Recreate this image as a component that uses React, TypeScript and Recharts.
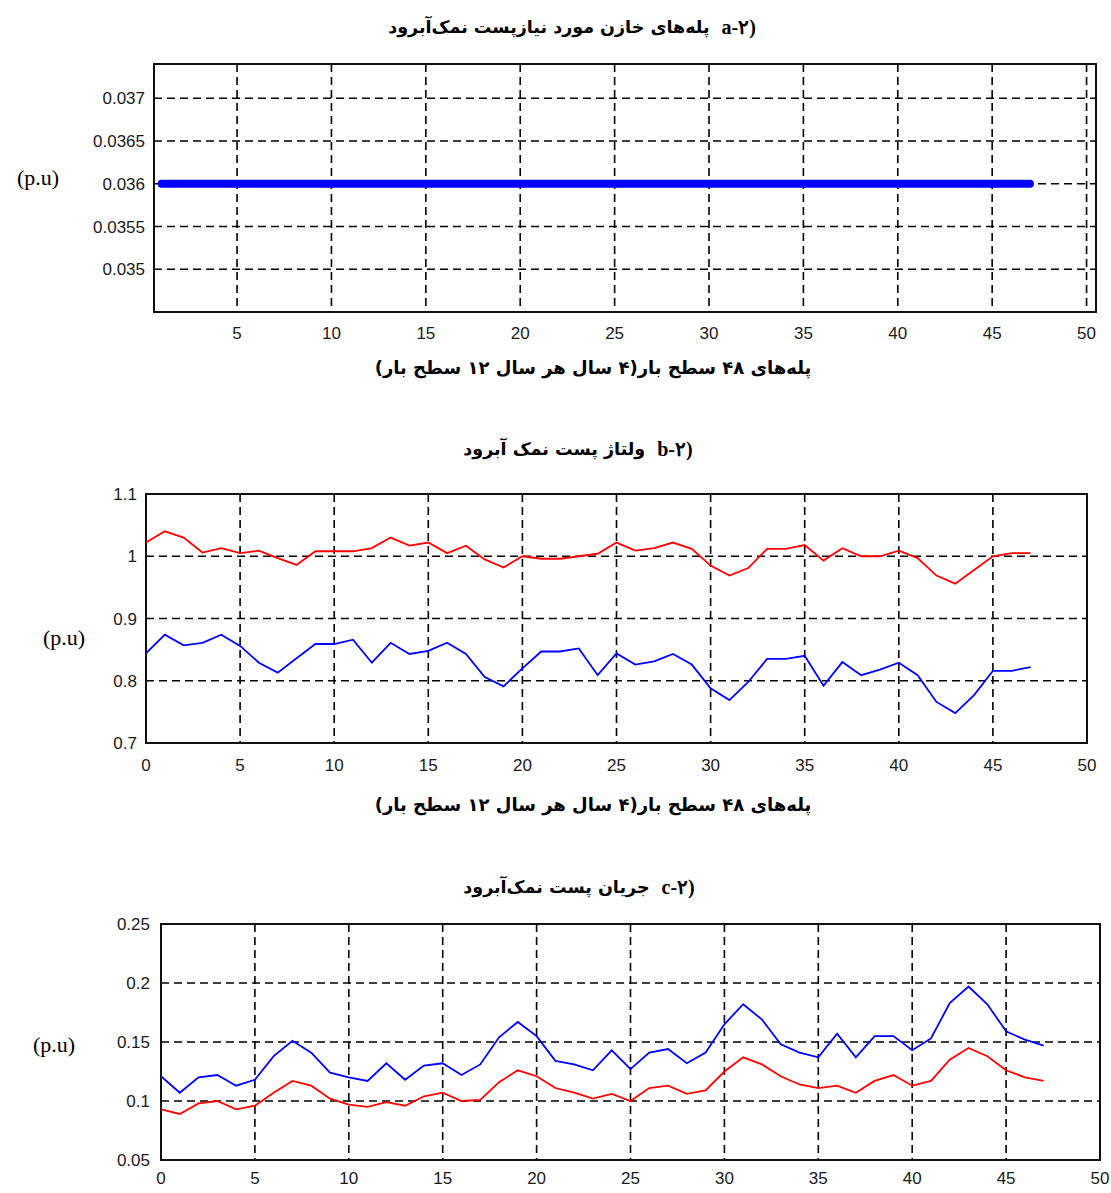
import { LineChart, Line, XAxis, YAxis, CartesianGrid, ReferenceArea } from "recharts"

// panel a: capacitor steps (constant)
const stepsA = [1, 2, 3, 4, 5, 6, 7, 8, 9, 10, 11, 12, 13, 14, 15, 16, 17, 18, 19, 20, 21, 22, 23, 24, 25, 26, 27, 28, 29, 30, 31, 32, 33, 34, 35, 36, 37, 38, 39, 40, 41, 42, 43, 44, 45, 46, 47]
const capacitor = [
  0.036, 0.036, 0.036, 0.036, 0.036, 0.036, 0.036, 0.036, 0.036, 0.036, 0.036, 0.036,
  0.036, 0.036, 0.036, 0.036, 0.036, 0.036, 0.036, 0.036, 0.036, 0.036, 0.036, 0.036,
  0.036, 0.036, 0.036, 0.036, 0.036, 0.036, 0.036, 0.036, 0.036, 0.036, 0.036, 0.036,
  0.036, 0.036, 0.036, 0.036, 0.036, 0.036, 0.036, 0.036, 0.036, 0.036, 0.036,
]

// panels b and c: 48 load levels
const steps = [0, 1, 2, 3, 4, 5, 6, 7, 8, 9, 10, 11, 12, 13, 14, 15, 16, 17, 18, 19, 20, 21, 22, 23, 24, 25, 26, 27, 28, 29, 30, 31, 32, 33, 34, 35, 36, 37, 38, 39, 40, 41, 42, 43, 44, 45, 46, 47]
const voltageRed = [
  1.022, 1.04, 1.03, 1.006, 1.013, 1.005, 1.009, 0.997, 0.986, 1.008, 1.008, 1.008,
  1.013, 1.03, 1.017, 1.022, 1.005, 1.017, 0.995, 0.982, 1.0, 0.996, 0.996, 1.0,
  1.004, 1.022, 1.009, 1.013, 1.022, 1.012, 0.985, 0.969, 0.981, 1.012, 1.012, 1.018,
  0.993, 1.013, 1.0, 1.0, 1.009, 0.997, 0.969, 0.956, 0.978, 1.0, 1.005, 1.005,
]
const voltageBlue = [
  0.844, 0.874, 0.857, 0.861, 0.874, 0.856, 0.829, 0.813, 0.836, 0.859, 0.859, 0.866,
  0.829, 0.861, 0.843, 0.848, 0.861, 0.843, 0.806, 0.791, 0.82, 0.847, 0.847, 0.852,
  0.809, 0.844, 0.826, 0.831, 0.843, 0.826, 0.788, 0.769, 0.798, 0.835, 0.835, 0.84,
  0.792, 0.83, 0.809, 0.818, 0.829, 0.809, 0.766, 0.748, 0.777, 0.816, 0.816, 0.822,
]
const currentBlue = [
  0.121, 0.107, 0.12, 0.122, 0.113, 0.118, 0.138, 0.151, 0.141, 0.124, 0.12, 0.117,
  0.132, 0.118, 0.13, 0.132, 0.122, 0.131, 0.154, 0.167, 0.155, 0.134, 0.131, 0.126,
  0.143, 0.127, 0.141, 0.144, 0.132, 0.141, 0.165, 0.182, 0.169, 0.148, 0.141, 0.137,
  0.157, 0.137, 0.155, 0.155, 0.143, 0.153, 0.183, 0.197, 0.182, 0.159, 0.152, 0.147,
]
const currentRed = [
  0.093, 0.089, 0.098, 0.1, 0.093, 0.096, 0.107, 0.117, 0.113, 0.102, 0.097, 0.095,
  0.099, 0.096, 0.104, 0.107, 0.1, 0.101, 0.116, 0.126, 0.121, 0.111, 0.107, 0.102,
  0.106, 0.1, 0.111, 0.113, 0.106, 0.109, 0.125, 0.137, 0.131, 0.121, 0.114, 0.111,
  0.113, 0.107, 0.117, 0.122, 0.113, 0.117, 0.135, 0.145, 0.138, 0.126, 0.12, 0.117,
]

const xTicksA = [5, 10, 15, 20, 25, 30, 35, 40, 45, 50]
const xTicks = [0, 5, 10, 15, 20, 25, 30, 35, 40, 45, 50]
const yTicksA = [0.035, 0.0355, 0.036, 0.0365, 0.037]
const yTicksB = [0.7, 0.8, 0.9, 1, 1.1]
const yTicksC = [0.05, 0.1, 0.15, 0.2, 0.25]

const titleA = "پله‌های خازن مورد نیازپست نمک‌آبرود"
const titleB = "ولتاژ پست نمک آبرود"
const titleC = "جریان پست نمک‌آبرود"
const xLabel = "پله‌های ۴۸ سطح بار(۴ سال هر سال ۱۲ سطح بار)"
const unit = "(p.u)"

const dataA = stepsA.map((x, i) => ({ x, cap: capacitor[i] }))
const dataB = steps.map((x, i) => ({ x, red: voltageRed[i], blue: voltageBlue[i] }))
const dataC = steps.map((x, i) => ({ x, red: currentRed[i], blue: currentBlue[i] }))

const tickStyle = { fontFamily: "'Liberation Sans', Arial, sans-serif", fontSize: 17, fill: "#1a1a1a" }
const persian = "'DejaVu Sans', sans-serif"

function Panel({ top, height, margin, data, xDomain, xTicks, yDomain, yTicks, xTickMargin, yTickMargin, xHeight, lines }: any) {
  return (
    <div style={{ position: "absolute", left: 0, top }}>
      <LineChart width={1111} height={height} data={data} margin={margin}>
        <CartesianGrid stroke="#000" strokeWidth={1.6} strokeDasharray="8 5" />
        <XAxis
          type="number"
          dataKey="x"
          domain={xDomain}
          ticks={xTicks}
          allowDataOverflow
          height={xHeight}
          axisLine={false}
          tickLine={false}
          tickMargin={xTickMargin}
          tick={tickStyle}
          interval={0}
        />
        <YAxis
          type="number"
          domain={yDomain}
          ticks={yTicks}
          allowDataOverflow
          width={60}
          axisLine={false}
          tickLine={false}
          tickMargin={yTickMargin}
          tick={tickStyle}
          interval={0}
        />
        {lines.map((l: any) => (
          <Line
            key={l.key}
            type="linear"
            dataKey={l.key}
            stroke={l.color}
            strokeWidth={l.width}
            strokeLinecap={l.cap || "butt"}
            dot={false}
            isAnimationActive={false}
          />
        ))}
        <ReferenceArea
          x1={xDomain[0]}
          x2={xDomain[1]}
          y1={yDomain[0]}
          y2={yDomain[1]}
          fill="none"
          stroke="#111"
          strokeWidth={2}
          ifOverflow="visible"
        />
      </LineChart>
    </div>
  )
}

function Label({ text, cx, cy, size, bold, font, dir }: any) {
  return (
    <div
      style={{
        position: "absolute",
        left: cx - 350,
        top: cy - 15,
        width: 700,
        height: 30,
        lineHeight: "30px",
        textAlign: "center",
        whiteSpace: "nowrap",
        fontFamily: font,
        fontSize: size,
        fontWeight: bold ? "bold" : "normal",
        direction: dir || "ltr",
        color: "#000",
      }}
    >
      {text}
    </div>
  )
}

function Title({ text, tag, cx, cy }: any) {
  return (
    <div
      style={{
        position: "absolute",
        left: cx - 350,
        top: cy - 15,
        width: 700,
        height: 30,
        display: "flex",
        justifyContent: "center",
        alignItems: "center",
        whiteSpace: "nowrap",
        direction: "ltr",
      }}
    >
      <span style={{ fontFamily: persian, fontWeight: "bold", fontSize: 17.5, direction: "rtl", unicodeBidi: "isolate" }}>{text}</span>
      <span style={{ fontFamily: "'Liberation Serif', serif", fontWeight: "bold", fontSize: 20, marginLeft: 12, unicodeBidi: "isolate" }}>{tag}</span>
    </div>
  )
}

export default function App() {
  return (
    <div style={{ position: "absolute", left: 0, top: 0, width: 1111, height: 1193, background: "#fff", overflow: "hidden" }}>
      <Panel
        top={0}
        height={350}
        margin={{ top: 64, right: 15, bottom: 8, left: 94 }}
        data={dataA}
        xDomain={[0.6, 50.5]}
        xTicks={xTicksA}
        yDomain={[0.0345, 0.0374]}
        yTicks={yTicksA}
        xHeight={30}
        xTickMargin={9}
        yTickMargin={3}
        lines={[{ key: "cap", color: "#0000ff", width: 8, cap: "round" }]}
      />
      <Panel
        top={480}
        height={300}
        margin={{ top: 14, right: 24, bottom: 7, left: 86 }}
        data={dataB}
        xDomain={[0, 50]}
        xTicks={xTicks}
        yDomain={[0.7, 1.1]}
        yTicks={yTicksB}
        xHeight={30}
        xTickMargin={10}
        yTickMargin={3}
        lines={[
          { key: "red", color: "#ff0000", width: 1.8 },
          { key: "blue", color: "#0000ff", width: 1.8 },
        ]}
      />
      <Panel
        top={900}
        height={293}
        margin={{ top: 24, right: 11, bottom: 5, left: 101 }}
        data={dataC}
        xDomain={[0, 50]}
        xTicks={xTicks}
        yDomain={[0.05, 0.25]}
        yTicks={yTicksC}
        xHeight={28}
        xTickMargin={6}
        yTickMargin={5}
        lines={[
          { key: "blue", color: "#0000ff", width: 1.8 },
          { key: "red", color: "#ff0000", width: 1.8 },
        ]}
      />

      <Title text={titleA} tag="a-۲)" cx={572} cy={27} />
      <Title text={titleB} tag="b-۲)" cx={578} cy={449} />
      <Title text={titleC} tag="c-۲)" cx={579} cy={887} />

      <Label text={xLabel} cx={593} cy={368} size={18} bold font={persian} dir="rtl" />
      <Label text={xLabel} cx={593} cy={805} size={18} bold font={persian} dir="rtl" />

      <Label text={unit} cx={38} cy={178} size={22} font="'Liberation Serif', serif" />
      <Label text={unit} cx={64} cy={638} size={22} font="'Liberation Serif', serif" />
      <Label text={unit} cx={54} cy={1045} size={22} font="'Liberation Serif', serif" />
    </div>
  )
}
